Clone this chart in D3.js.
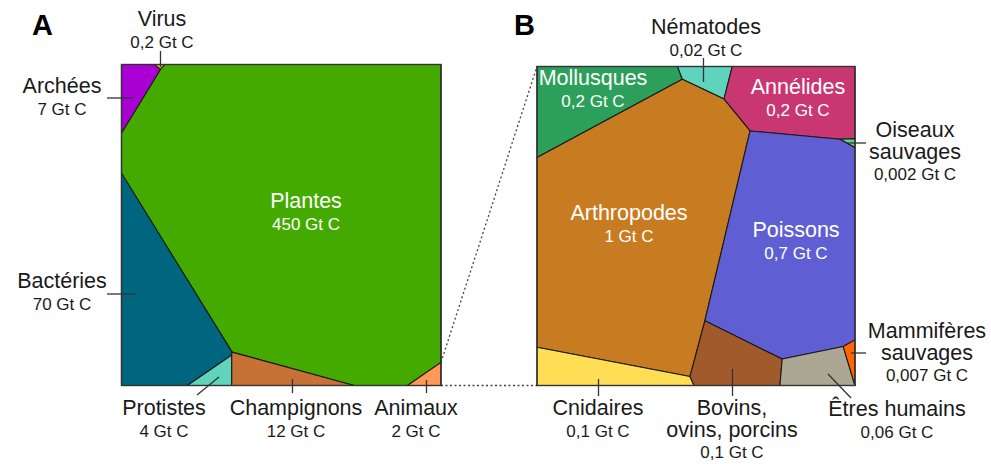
<!DOCTYPE html>
<html><head><meta charset="utf-8">
<script src="https://cdn.jsdelivr.net/npm/d3@7/dist/d3.min.js"></script>
<style>body{margin:0;background:#fff}svg{display:block}text{font-family:"Liberation Sans",Arial,sans-serif}</style>
</head><body><svg id="c" width="991" height="464"></svg>
<script>
// ---- Data: panel A (biomass by kingdom) ----
const namesA = ["Archées","Virus","Plantes","Bactéries","Protistes","Champignons","Animaux"];
const valuesA = ["7 Gt C","0,2 Gt C","450 Gt C","70 Gt C","4 Gt C","12 Gt C","2 Gt C"];
const colorsA = ["#aa00d4","#f5b800","#44aa00","#006680","#5fd3bc","#c87137","#ff9955"];
// cell polygons in unit-square data space (0..100)
const cellsA = [
  [[0,0],[10.27,0],[12.27,1.5],[0,21.4]],
  [[10.27,0],[13.6,0],[12.27,1.5]],
  [[13.6,0],[100,0],[100,92.8],[89.5,100],[72.8,100],[34.6,89.6],[0,33.9],[0,21.4],[12.27,1.5]],
  [[0,33.9],[34.6,89.6],[34.5,90.5],[20.6,100],[0,100]],
  [[34.5,90.5],[34.5,100],[20.6,100]],
  [[34.6,89.6],[72.8,100],[34.5,100],[34.5,90.5]],
  [[100,92.8],[100,100],[89.5,100]]
];
// ---- Data: panel B (animal biomass) ----
const namesB = ["Mollusques","Nématodes","Annélides","Oiseaux sauvages","Arthropodes","Poissons","Cnidaires","Bovins, ovins, porcins","Êtres humains","Mammifères sauvages"];
const valuesB = ["0,2 Gt C","0,02 Gt C","0,2 Gt C","0,002 Gt C","1 Gt C","0,7 Gt C","0,1 Gt C","0,1 Gt C","0,06 Gt C","0,007 Gt C"];
const colorsB = ["#2ca05a","#5fd3bc","#c83771","#5fd38d","#c87c21","#5f5fd3","#ffdd55","#a05a2c","#aca793","#ff6600"];
const cellsB = [
  [[0,0],[44.2,0],[45.7,4.0],[0,28.5]],
  [[44.2,0],[61.4,0],[58.8,10.2],[45.7,4.0]],
  [[61.4,0],[100,0],[100,22.6],[95.3,22.8],[67.0,20.2],[58.8,10.2]],
  [[95.3,22.8],[100,22.6],[100,25.5]],
  [[45.7,4.0],[58.8,10.2],[67.0,20.2],[52.8,79.7],[48.1,97.2],[0,88.0],[0,28.5]],
  [[67.0,20.2],[95.3,22.8],[100,25.5],[100,85.7],[96.3,87.8],[77.1,91.7],[52.8,79.7]],
  [[0,88.0],[48.1,97.2],[49.4,100],[0,100]],
  [[52.8,79.7],[77.1,91.7],[76.4,100],[49.4,100],[48.1,97.2]],
  [[77.1,91.7],[96.3,87.8],[100,100],[76.4,100]],
  [[96.3,87.8],[100,85.7],[100,100]]
];

// ---- Layout ----
const svg = d3.select("#c");
const panels = [
  {letter:"A", lx:32, x:d3.scaleLinear([0,100],[121.5,441]), y:d3.scaleLinear([0,100],[64.5,385.5]),
   names:namesA, values:valuesA, colors:colorsA, cells:cellsA,
   labels:[
    {i:0, x:62, y:93, lines:["Archées"], lead:[[107,98],[133,98]]},
    {i:1, x:162, y:26, lines:["Virus"], lead:[[160.5,51],[160.5,67]]},
    {i:2, x:306, y:208, lines:["Plantes"], inside:true},
    {i:3, x:62, y:288, lines:["Bactéries"], lead:[[107,294],[136,294]]},
    {i:4, x:164, y:415, lines:["Protistes"], lead:[[197,395],[219,377]]},
    {i:5, x:296, y:415, lines:["Champignons"], lead:[[292.5,379],[292.5,393]]},
    {i:6, x:416, y:415, lines:["Animaux"], lead:[[426.5,380],[426.5,393]]}
   ]},
  {letter:"B", lx:514, x:d3.scaleLinear([0,100],[537,855]), y:d3.scaleLinear([0,100],[66.5,385.5]),
   names:namesB, values:valuesB, colors:colorsB, cells:cellsB,
   labels:[
    {i:0, x:593, y:85, lines:["Mollusques"], inside:true},
    {i:1, x:706, y:34, lines:["Nématodes"], lead:[[703.5,58],[703.5,82]]},
    {i:2, x:798, y:94, lines:["Annélides"], inside:true},
    {i:3, x:915, y:137, lines:["Oiseaux","sauvages"], lead:[[847,143],[866,143]]},
    {i:4, x:629, y:220, lines:["Arthropodes"], inside:true},
    {i:5, x:796, y:237, lines:["Poissons"], inside:true},
    {i:6, x:598, y:415, lines:["Cnidaires"], lead:[[598.5,379],[598.5,396]]},
    {i:7, x:732, y:415, lines:["Bovins,","ovins, porcins"], lead:[[732.5,369],[732.5,396]]},
    {i:8, x:897, y:416, lines:["Êtres humains"], lead:[[828,374],[851,398]]},
    {i:9, x:927, y:338, lines:["Mammifères","sauvages"], lead:[[851,353],[866,353]]}
   ]}
];

// dotted zoom connectors
const pa = panels[0], pb = panels[1];
const conn = [
  [[pa.x(100), pa.y(92.8)], [pb.x(0), pb.y(0)]],
  [[pa.x(100), pa.y(100)], [pb.x(0), pb.y(100)]]
];
svg.selectAll("path.conn").data(conn).join("path")
  .attr("d", d => d3.line()(d)).attr("fill","none")
  .attr("stroke","#444").attr("stroke-width",1.3).attr("stroke-dasharray","2,2.5");

const line = d3.line();
panels.forEach(p => {
  const g = svg.append("g");
  g.selectAll("path.cell").data(p.cells).join("path")
    .attr("d", (c) => line(c.map(v => [p.x(v[0]), p.y(v[1])])) + "Z")
    .attr("fill", (c,i) => p.colors[i])
    .attr("stroke", "#1a1a1a").attr("stroke-width", 1.1).attr("stroke-linejoin","round");
  g.append("rect").attr("x", p.x(0)).attr("y", p.y(0))
    .attr("width", p.x(100)-p.x(0)).attr("height", p.y(100)-p.y(0))
    .attr("fill","none").attr("stroke","#333").attr("stroke-width",1.4);
  p.labels.filter(l => l.lead).forEach(l => {
    g.append("path").attr("d", line(l.lead)).attr("stroke","#333").attr("stroke-width",1.3).attr("fill","none");
  });
  p.labels.forEach(l => {
    const col = l.inside ? "#ffffff" : "#1a1a1a";
    const t = g.append("text").attr("text-anchor","middle").attr("fill", col);
    l.lines.forEach((s,k) => {
      t.append("tspan").attr("x", l.x).attr("y", l.y + k*22).attr("font-size", 21.5).text(s);
    });
    t.append("tspan").attr("x", l.x).attr("y", l.y + l.lines.length*22 - (l.lines.length>1?1:0))
      .attr("font-size", 17).text(p.values[l.i]);
  });
  svg.append("text").attr("x", p.lx).attr("y", 35).attr("font-size", 29).attr("font-weight","bold")
    .attr("fill","#000").text(p.letter);
});
</script></body></html>
